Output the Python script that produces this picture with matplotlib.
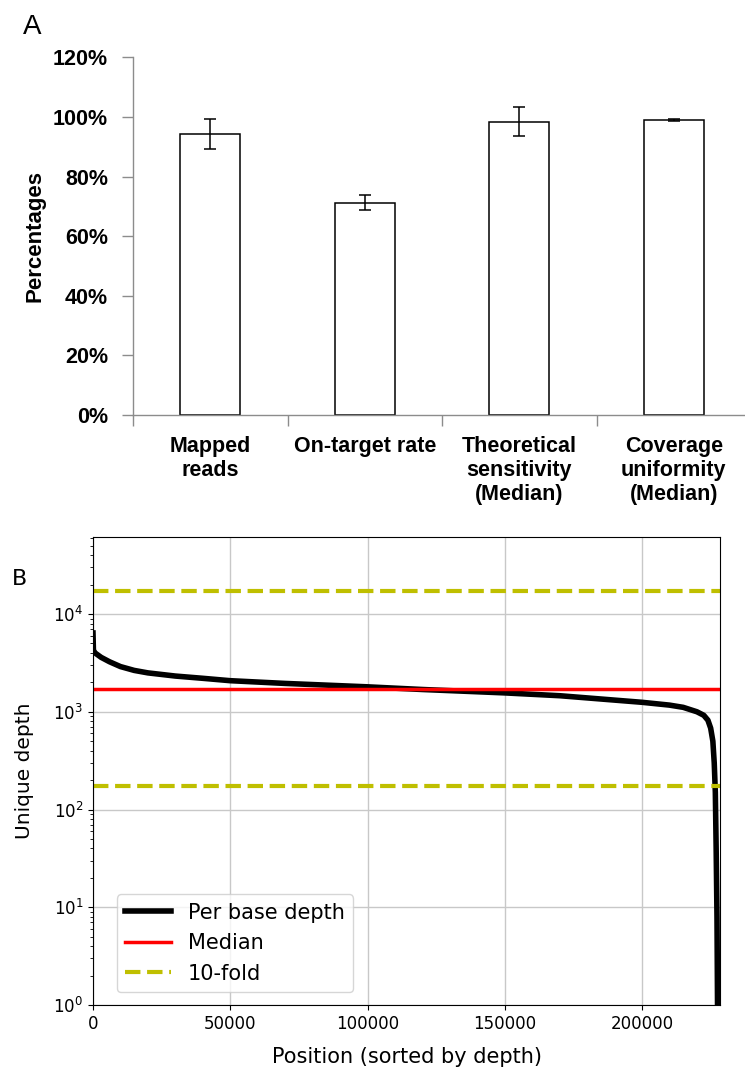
"""
Panel A: sequencing QC percentages, panel B: per base unique depth
"""

import matplotlib
matplotlib.use('Agg')
import matplotlib.pyplot as plt

# panel A data
categories = ['Mapped\nreads', 'On-target rate', 'Theoretical\nsensitivity\n(Median)',
              'Coverage\nuniformity\n(Median)']
percent_values = [94.2, 71.2, 98.4, 98.9]
percent_errors = [5.0, 2.5, 4.9, 0.3]
percent_ticks = [0, 20, 40, 60, 80, 100, 120]

# panel B data (sorted per base depth)
depth_pos = [0, 150, 400, 1000, 3000, 6000, 10000, 15000, 20000, 30000, 40000, 50000,
             70000, 100000, 120000, 150000, 170000, 200000, 210000, 215000, 220000,
             222500, 224000, 225000, 225800, 226300, 226700, 227000, 227300, 227500]
depth_val = [6400, 4300, 4100, 3950, 3600, 3250, 2900, 2650, 2500, 2320, 2200, 2080,
             1950, 1800, 1690, 1560, 1460, 1250, 1170, 1110, 1000,
             920, 820, 680, 500, 300, 150, 40, 8, 1]
median_depth = 1730
fold = 10
x_ticks = [0, 50000, 100000, 150000, 200000]

W, H = 745, 1074
fig = plt.figure(figsize=(W / 100, H / 100), dpi=100)

# ---- panel A ----
boldA = dict(family='Liberation Sans', weight='bold')
axA = fig.add_axes([133 / W, 1 - 415 / H, 618 / W, (415 - 57.3) / H])
x = range(len(categories))
axA.bar(x, percent_values, width=0.39, color='white', edgecolor='black', linewidth=1.1)
axA.errorbar(x, percent_values, yerr=percent_errors, fmt='none', ecolor='black',
             elinewidth=1.1, capsize=4.3, capthick=1.1)
axA.set_xlim(-0.5, 3.5)
axA.set_ylim(0, 120)
axA.set_yticks(percent_ticks)
axA.set_yticklabels(['{0}%'.format(t) for t in percent_ticks], fontsize=15.5, **boldA)
axA.set_xticks(list(x))
axA.set_xticklabels(categories, fontsize=15.5, linespacing=1.2, **boldA)
axA.set_xticks([-0.5, 0.5, 1.5, 2.5, 3.5], minor=True)
axA.tick_params(axis='x', which='major', length=0, pad=15)
axA.tick_params(axis='x', which='minor', length=8, color='#8c8c8c', width=1)
axA.tick_params(axis='y', length=8, color='#8c8c8c', width=1, pad=10)
for s in ['top', 'right']:
    axA.spines[s].set_visible(False)
for s in ['left', 'bottom']:
    axA.spines[s].set_color('#8c8c8c')
    axA.spines[s].set_linewidth(1)
axA.set_ylabel('Percentages', fontsize=16, labelpad=5, **boldA)
fig.text(23 / W, 1 - 34 / H, 'A', fontsize=20, family='Liberation Sans')

# ---- panel B ----
axB = fig.add_axes([93 / W, 1 - 1005 / H, 627 / W, 468 / H])
axB.plot(depth_pos, depth_val, color='black', linewidth=4, label='Per base depth')
axB.axhline(median_depth, color='red', linewidth=2.5, label='Median')
axB.axhline(median_depth * fold, color='y', linestyle='--', linewidth=3, label='10-fold')
axB.axhline(median_depth / fold, color='y', linestyle='--', linewidth=3)
axB.set_yscale('log')
axB.set_ylim(1, 61400)
axB.set_xlim(0, 228400)
axB.set_xticks(x_ticks)
axB.grid(True, color='#c8c8c8', linewidth=1)
axB.tick_params(labelsize=12)
axB.set_xlabel('Position (sorted by depth)', fontsize=15, labelpad=10)
axB.set_ylabel('Unique depth', fontsize=14.5, labelpad=14)
axB.legend(loc='lower left', bbox_to_anchor=(0.038, 0.028), borderaxespad=0,
           fontsize=15, handlelength=2.2)
fig.text(12 / W, 1 - 585 / H, 'B', fontsize=16)

plt.savefig('out.png', dpi=100)
